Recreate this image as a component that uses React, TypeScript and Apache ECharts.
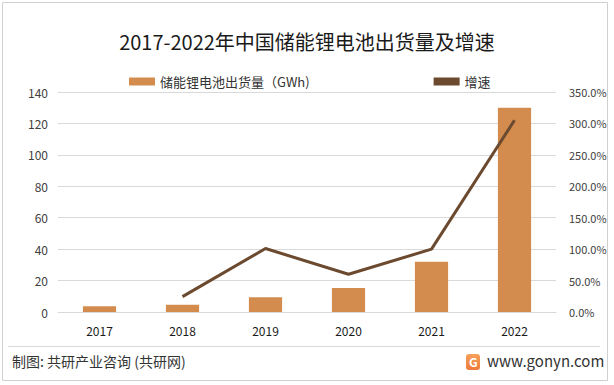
import React, { useEffect, useRef } from "react";
import * as echarts from "echarts";

const years = ["2017", "2018", "2019", "2020", "2021", "2022"];
const shipments = [3.7, 4.6, 9.4, 15.2, 32, 130];
const growth = [null, 24.5, 101, 60, 100, 305];
const leftTicks = [0, 20, 40, 60, 80, 100, 120, 140];

const FONT = "'Noto Sans CJK SC', 'Noto Sans', sans-serif";

export default function App() {
  const ref = useRef<HTMLDivElement>(null);
  useEffect(() => {
    if (!ref.current) return;
    const chart = echarts.init(ref.current, null, { renderer: "svg" });
    const wm: any[] = [];
    const wmPos = [
      [200, 40], [20, 120], [330, 110], [180, 200], [420, 200],
      [30, 260], [300, 290],
    ];
    wmPos.forEach(([x, y]) => {
      wm.push({
        type: "group",
        x,
        y,
        rotation: (10 * Math.PI) / 180,
        silent: true,
        children: [
          {
            type: "text",
            style: { text: "G共研产业咨询", font: `bold 26px ${FONT}`, fill: "rgba(0,0,0,0.025)" },
          },
          {
            type: "text",
            y: 32,
            x: 20,
            style: { text: "w w w . g o n y n . c o m", font: `14px ${FONT}`, fill: "rgba(0,0,0,0.025)" },
          },
        ],
      });
    });
    chart.setOption({
      animation: false,
      backgroundColor: "#ffffff",
      textStyle: { fontFamily: FONT },
      title: {
        text: "2017-2022年中国储能锂电池出货量及增速",
        left: "center",
        top: 26,
        textStyle: { fontSize: 20, fontWeight: "normal", color: "#1a1a1a", fontFamily: FONT },
      },
      legend: {
        top: 70,
        left: 124,
        itemGap: 124,
        itemWidth: 26,
        itemHeight: 8,
        textStyle: { fontSize: 13, color: "#333333", fontFamily: FONT },
        data: [
          { name: "储能锂电池出货量（GWh)", icon: "rect" },
          { name: "增速", icon: "rect", itemStyle: { color: "#6B4A2F" } },
        ],
      },
      grid: { left: 58, right: 58, top: 92, bottom: 73 },
      xAxis: {
        type: "category",
        data: years,
        axisLine: { lineStyle: { color: "#d9d9d9" } },
        axisTick: { show: false },
        axisLabel: { color: "#1a1a1a", fontSize: 12, margin: 12, fontFamily: FONT },
      },
      yAxis: [
        {
          type: "value",
          min: leftTicks[0],
          max: leftTicks[leftTicks.length - 1],
          interval: 20,
          axisLine: { show: false },
          axisTick: { show: false },
          axisLabel: { color: "#404040", fontSize: 12, margin: 10, fontFamily: FONT },
          splitLine: { lineStyle: { color: "#d9d9d9" } },
        },
        {
          type: "value",
          min: 0,
          max: 350,
          interval: 50,
          axisLine: { show: false },
          axisTick: { show: false },
          axisLabel: {
            color: "#404040",
            fontSize: 11,
            margin: 13,
            fontFamily: FONT,
            formatter: (v: number) => v.toFixed(1) + "%",
          },
          splitLine: { show: false },
        },
      ],
      series: [
        {
          name: "储能锂电池出货量（GWh)",
          type: "bar",
          data: shipments,
          barWidth: "40%",
          itemStyle: { color: "#D38C4E" },
        },
        {
          name: "增速",
          type: "line",
          yAxisIndex: 1,
          data: growth,
          symbol: "none",
          lineStyle: { color: "#6B4A2F", width: 3 },
          itemStyle: { color: "#6B4A2F" },
        },
      ],
      graphic: [
        ...wm,
        {
          type: "rect",
          shape: { x: 2.5, y: 2.5, width: 605, height: 378 },
          style: { fill: "none", stroke: "#d0d0d0", lineWidth: 1 },
          silent: true,
        },
        {
          type: "line",
          shape: { x1: 8, y1: 346.5, x2: 600, y2: 346.5 },
          style: { stroke: "#d9d9d9", lineWidth: 1 },
        },
        {
          type: "text",
          x: 12,
          y: 354,
          style: { text: "制图: 共研产业咨询 (共研网)", font: `14px ${FONT}`, fill: "#333333" },
        },
        {
          type: "rect",
          shape: { x: 466, y: 354, width: 14, height: 16, r: 3 },
          style: {
            fill: new echarts.graphic.LinearGradient(0, 0, 0, 1, [
              { offset: 0, color: "#F7A15A" },
              { offset: 1, color: "#EE7A3A" },
            ]),
          },
        },
        {
          type: "text",
          x: 469,
          y: 355,
          style: { text: "G", font: `bold 12px ${FONT}`, fill: "#ffffff" },
        },
        {
          type: "text",
          x: 487,
          y: 353,
          style: { text: "www.gonyn.com", font: `15px ${FONT}`, fill: "#333333" },
        },
      ],
    });
    return () => chart.dispose();
  }, []);
  return (
    <div
      ref={ref}
      style={{ position: "fixed", left: 0, top: 0, width: 614, height: 385 }}
    />
  );
}
